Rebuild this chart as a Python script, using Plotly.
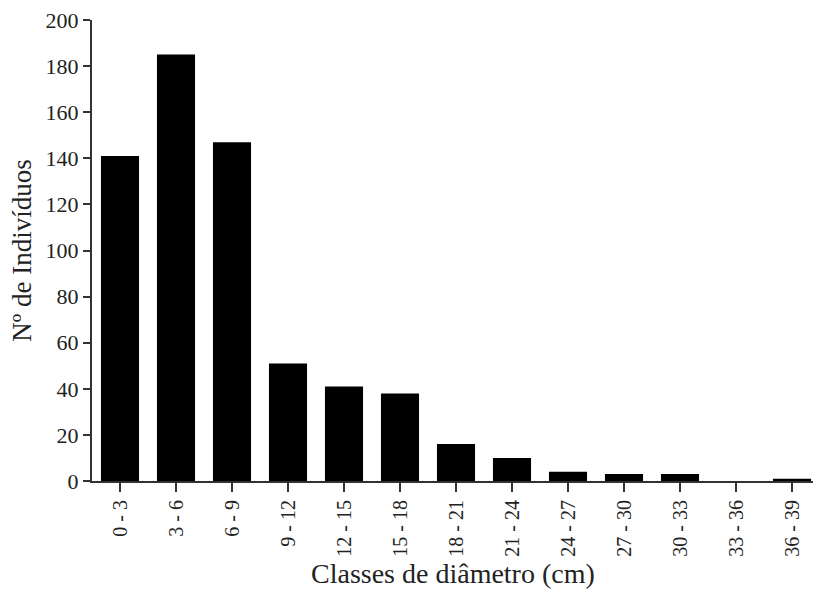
import plotly.graph_objects as go

# Diameter classes (cm) and number of individuals per class
classes = ["0 - 3", "3 - 6", "6 - 9", "9 - 12", "12 - 15", "15 - 18", "18 - 21",
           "21 - 24", "24 - 27", "27 - 30", "30 - 33", "33 - 36", "36 - 39"]
individuals = [141, 185, 147, 51, 41, 38, 16, 10, 4, 3, 3, 0, 1]
y_ticks = [0, 20, 40, 60, 80, 100, 120, 140, 160, 180, 200]

serif = "Liberation Serif, Times New Roman, serif"

fig = go.Figure(
    go.Bar(
        x=list(range(len(classes))),
        y=individuals,
        width=0.68,
        marker=dict(color="black", line=dict(color="black", width=0)),
    )
)

fig.update_layout(
    width=815,
    height=591,
    margin=dict(l=92, r=2, t=20, b=110),
    paper_bgcolor="white",
    plot_bgcolor="white",
    showlegend=False,
    font=dict(family=serif, color="#222222", size=20),
)

fig.update_xaxes(
    range=[-0.5, 12.375],
    tickmode="array",
    tickvals=list(range(len(classes))),
    ticktext=classes,
    tickangle=-90,
    ticks="outside",
    ticklen=9,
    tickwidth=2,
    tickcolor="#333333",
    showline=True,
    linecolor="#333333",
    linewidth=2,
    showgrid=False,
    zeroline=False,
    tickfont=dict(family=serif, size=20, color="#222222"),
)

# x-axis title placed just below the rotated tick labels
fig.add_annotation(
    text="Classes de diâmetro (cm)",
    xref="paper", yref="paper",
    x=0.5, y=-0.2,
    xanchor="center", yanchor="middle",
    showarrow=False,
    font=dict(family=serif, size=28, color="#222222"),
)

fig.update_yaxes(
    range=[0, 200],
    tickmode="array",
    tickvals=y_ticks,
    ticks="outside",
    ticklen=7,
    tickwidth=2,
    tickcolor="#333333",
    showline=True,
    linecolor="#333333",
    linewidth=2,
    showgrid=False,
    zeroline=False,
    tickfont=dict(family=serif, size=22, color="#222222"),
    title=dict(text="Nº de Indivíduos", font=dict(family=serif, size=27), standoff=6),
)

fig.write_html("out.html")
